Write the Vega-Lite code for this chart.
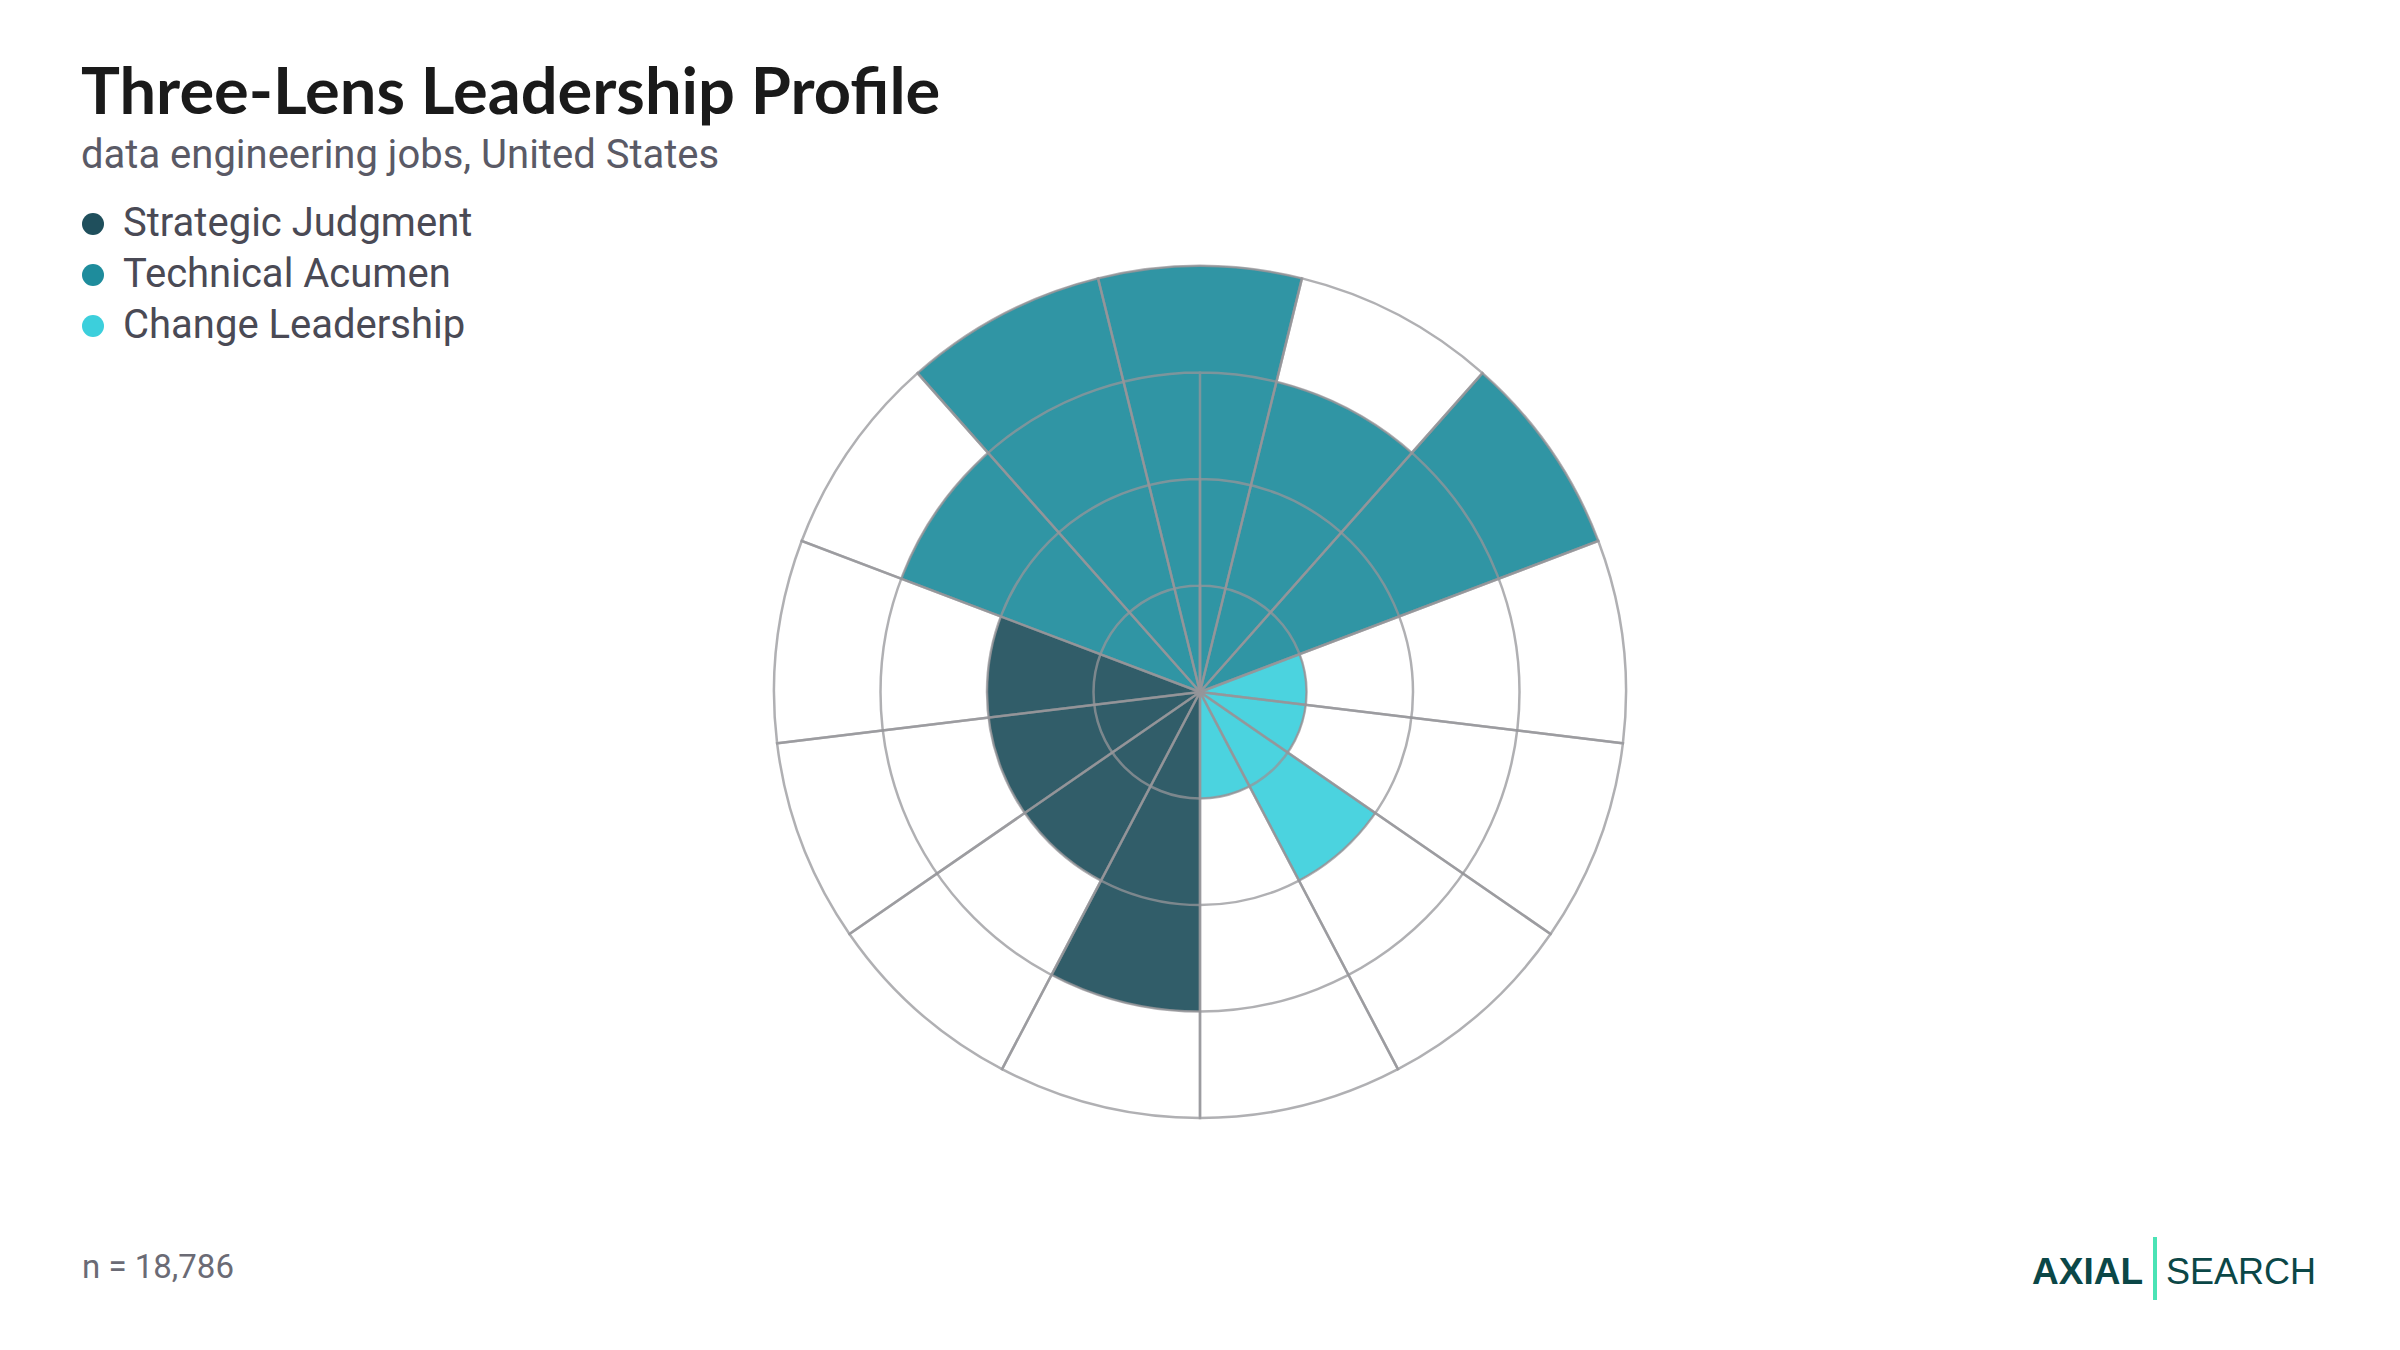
{
  "$schema": "https://vega.github.io/schema/vega-lite/v6.json",
  "autosize": {"type": "none"},
  "padding": {"top": 190, "left": 0, "right": 0, "bottom": 156},
  "width": 2400,
  "height": 1004,
  "background": "white",
  "title": {
    "text": "Three-Lens Leadership Profile",
    "subtitle": "data engineering jobs, United States",
    "anchor": "start",
    "frame": "group",
    "dx": 81,
    "offset": 13,
    "font": "Lato",
    "fontSize": 65,
    "fontWeight": "bold",
    "color": "#1a1a1a",
    "subtitleFont": "Roboto",
    "subtitleFontSize": 40,
    "subtitleColor": "#5a5a66",
    "subtitlePadding": 8
  },
  "data": {
    "values": [
      {"idx": 1, "item": "Strategic Judgment 1", "group": "Strategic Judgment", "value": 3},
      {"idx": 2, "item": "Strategic Judgment 2", "group": "Strategic Judgment", "value": 2},
      {"idx": 3, "item": "Strategic Judgment 3", "group": "Strategic Judgment", "value": 2},
      {"idx": 4, "item": "Strategic Judgment 4", "group": "Strategic Judgment", "value": 2},
      {"idx": 5, "item": "Technical Acumen 1", "group": "Technical Acumen", "value": 3},
      {"idx": 6, "item": "Technical Acumen 2", "group": "Technical Acumen", "value": 4},
      {"idx": 7, "item": "Technical Acumen 3", "group": "Technical Acumen", "value": 4},
      {"idx": 8, "item": "Technical Acumen 4", "group": "Technical Acumen", "value": 3},
      {"idx": 9, "item": "Technical Acumen 5", "group": "Technical Acumen", "value": 4},
      {"idx": 10, "item": "Change Leadership 1", "group": "Change Leadership", "value": 1},
      {"idx": 11, "item": "Change Leadership 2", "group": "Change Leadership", "value": 1},
      {"idx": 12, "item": "Change Leadership 3", "group": "Change Leadership", "value": 2},
      {"idx": 13, "item": "Change Leadership 4", "group": "Change Leadership", "value": 1}
    ]
  },
  "layer": [
    {
      "name": "bars",
      "transform": [
        {"aggregate": [{"op": "count", "as": "n"}], "groupby": ["idx", "item", "group", "value"]},
        {"stack": "n", "groupby": [], "sort": [{"field": "idx", "order": "ascending"}], "as": ["t0", "t1"]}
      ],
      "mark": {"type": "arc", "fillOpacity": 0.92, "stroke": "#8f9398", "strokeWidth": 1},
      "encoding": {
        "theta": {"field": "t0", "type": "quantitative", "scale": {"domain": [0, 13], "range": [3.14159265, 9.42477796]}},
        "theta2": {"field": "t1"},
        "radius": {"field": "value", "type": "quantitative", "stack": null, "scale": {"type": "linear", "domain": [0, 4], "range": [0, 426], "zero": true}},
        "color": {
          "field": "group",
          "type": "nominal",
          "scale": {
            "domain": ["Strategic Judgment", "Technical Acumen", "Change Leadership"],
            "range": ["#1f4f5c", "#1e8c9c", "#3ccfdc"]
          },
          "legend": {
            "title": null,
            "orient": "none",
            "legendX": 73,
            "legendY": 14,
            "padding": 0,
            "symbolType": "circle",
            "symbolSize": 484,
            "symbolOpacity": 1,
            "symbolStrokeWidth": 0,
            "labelFont": "Roboto",
            "labelFontSize": 40,
            "labelColor": "#4a4a55",
            "labelLimit": 800,
            "labelOffset": 10,
            "rowPadding": 11
          }
        }
      }
    },
    {
      "name": "rings",
      "data": {"values": [{"ring": 1}, {"ring": 2}, {"ring": 3}]},
      "mark": {"type": "arc", "theta": 0, "theta2": 6.2831853, "filled": false, "stroke": "#959599", "strokeOpacity": 0.75, "strokeWidth": 2.5},
      "encoding": {
        "radius": {"field": "ring", "type": "quantitative", "stack": null, "scale": {"type": "linear", "domain": [0, 4], "range": [0, 426], "zero": true}}
      }
    },
    {
      "name": "spokes",
      "transform": [
        {"aggregate": [{"op": "count", "as": "n"}], "groupby": ["idx"]},
        {"stack": "n", "groupby": [], "sort": [{"field": "idx", "order": "ascending"}], "as": ["t0", "t1"]}
      ],
      "mark": {"type": "arc", "filled": false, "stroke": "#959599", "strokeOpacity": 0.75, "strokeWidth": 2.5},
      "encoding": {
        "theta": {"field": "t0", "type": "quantitative"},
        "theta2": {"field": "t1"},
        "radius": {"datum": 4, "type": "quantitative", "stack": null}
      }
    },
    {
      "name": "footnote",
      "data": {"values": [{"label": "n = 18,786"}]},
      "mark": {"type": "text", "align": "left", "baseline": "alphabetic", "font": "Roboto", "fontSize": 33, "color": "#6b6b75", "x": 82, "y": {"expr": "height + 84"}},
      "encoding": {"text": {"field": "label"}}
    },
    {
      "name": "logo_axial",
      "data": {"values": [{"label": "AXIAL"}]},
      "mark": {"type": "text", "align": "left", "baseline": "alphabetic", "font": "Liberation Sans", "fontWeight": "bold", "fontSize": 37, "color": "#0b4747", "x": {"expr": "width - 368"}, "y": {"expr": "height + 90"}},
      "encoding": {"text": {"field": "label"}}
    },
    {
      "name": "logo_bar",
      "data": {"values": [{"label": "|"}]},
      "mark": {"type": "rule", "stroke": "#4be3b5", "strokeWidth": 4},
      "encoding": {
        "x": {"value": {"expr": "width - 245"}},
        "y": {"value": {"expr": "height + 43"}},
        "y2": {"value": {"expr": "height + 106"}}
      }
    },
    {
      "name": "logo_search",
      "data": {"values": [{"label": "SEARCH"}]},
      "mark": {"type": "text", "align": "left", "baseline": "alphabetic", "font": "Liberation Sans", "fontSize": 36, "color": "#0b4747", "x": {"expr": "width - 234"}, "y": {"expr": "height + 90"}},
      "encoding": {"text": {"field": "label"}}
    }
  ],
  "config": {
    "view": {"stroke": null}
  }
}
